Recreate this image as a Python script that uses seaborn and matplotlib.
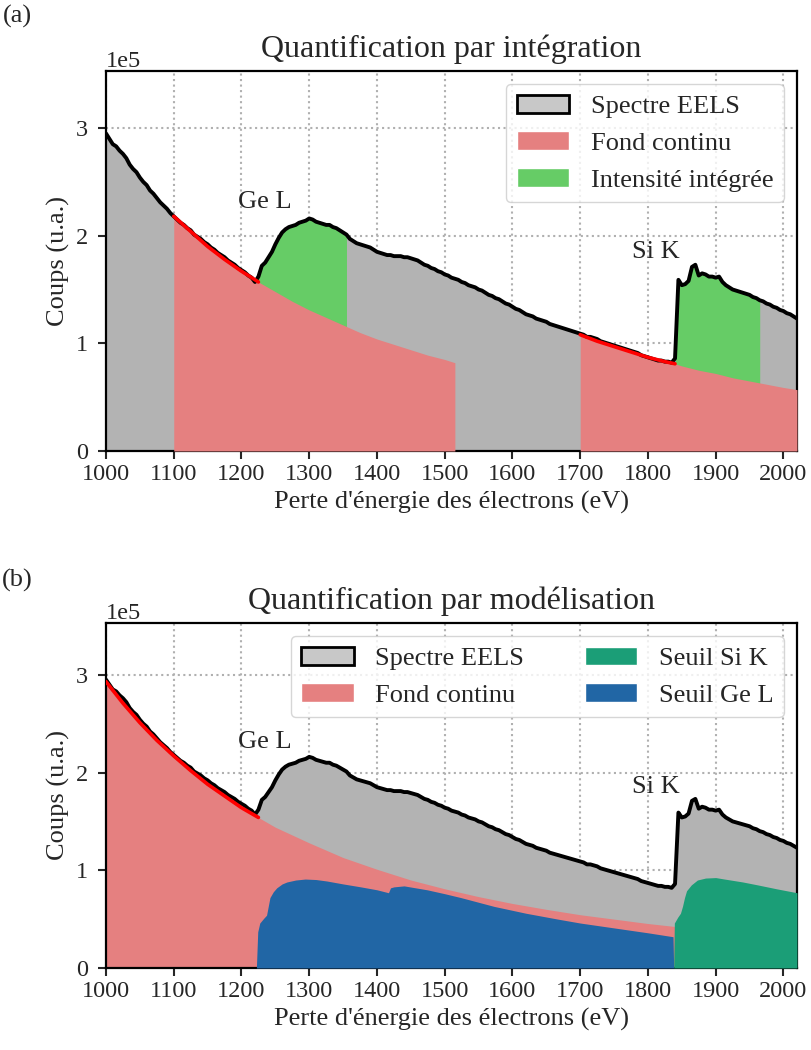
"""Two-panel EELS quantification figure (integration vs. model fit)."""
import matplotlib

matplotlib.use("Agg")  # headless rendering
import matplotlib.pyplot as plt  # noqa: E402
import numpy as np  # noqa: E402
import seaborn as sns  # noqa: E402
from matplotlib.patches import Patch  # noqa: E402

SCALE = 1e5  # values below are in units of 1e5 counts

# EELS spectrum, 5 eV steps from 1000 to 2020 eV
energy = np.arange(1000, 2021, 5)
spectrum = [
    2.95, 2.90, 2.85, 2.83, 2.79, 2.76, 2.72, 2.66, 2.62, 2.59,
    2.54, 2.50, 2.47, 2.42, 2.39, 2.35, 2.31, 2.28, 2.25, 2.21,
    2.18, 2.15, 2.12, 2.10, 2.07, 2.05, 2.01, 1.99, 1.97, 1.94,
    1.92, 1.89, 1.87, 1.84, 1.82, 1.80, 1.77, 1.75, 1.73, 1.70,
    1.68, 1.66, 1.63, 1.61, 1.57, 1.62, 1.72, 1.75, 1.80, 1.85,
    1.92, 1.98, 2.03, 2.06, 2.08, 2.09, 2.10, 2.12, 2.13, 2.14,
    2.16, 2.15, 2.13, 2.12, 2.11, 2.10, 2.10, 2.08, 2.07, 2.05,
    2.03, 2.01, 1.97, 1.95, 1.93, 1.92, 1.91, 1.90, 1.89, 1.87,
    1.85, 1.84, 1.83, 1.82, 1.82, 1.81, 1.81, 1.81, 1.80, 1.80,
    1.79, 1.78, 1.77, 1.75, 1.73, 1.72, 1.70, 1.69, 1.67, 1.66,
    1.64, 1.63, 1.61, 1.60, 1.59, 1.57, 1.56, 1.54, 1.53, 1.52,
    1.50, 1.49, 1.47, 1.45, 1.44, 1.42, 1.41, 1.39, 1.37, 1.36,
    1.34, 1.32, 1.31, 1.29, 1.27, 1.26, 1.25, 1.23, 1.22, 1.21,
    1.20, 1.18, 1.17, 1.16, 1.15, 1.14, 1.13, 1.12, 1.11, 1.10,
    1.09, 1.08, 1.06, 1.06, 1.05, 1.04, 1.02, 1.01, 1.00, 0.99,
    0.98, 0.97, 0.96, 0.95, 0.94, 0.93, 0.92, 0.91, 0.89, 0.88,
    0.87, 0.86, 0.85, 0.84, 0.84, 0.83, 0.83, 0.82, 0.86, 1.59,
    1.54, 1.55, 1.58, 1.71, 1.73, 1.63, 1.65, 1.64, 1.62, 1.62,
    1.61, 1.62, 1.57, 1.54, 1.52, 1.50, 1.49, 1.48, 1.47, 1.46,
    1.45, 1.43, 1.42, 1.40, 1.39, 1.37, 1.36, 1.34, 1.33, 1.31,
    1.30, 1.28, 1.27, 1.25, 1.23,
]

# (a) background under Ge L and under Si K
bg_ge_e = [1100, 1125, 1150, 1175, 1200, 1225, 1250, 1275, 1300, 1325,
           1350, 1375, 1400, 1425, 1450, 1475, 1500, 1515]
bg_ge = [2.18, 2.04, 1.90, 1.78, 1.67, 1.57, 1.48, 1.39, 1.31, 1.24,
         1.17, 1.10, 1.04, 0.99, 0.94, 0.89, 0.85, 0.82]
bg_si_e = [1700, 1725, 1750, 1775, 1800, 1825, 1840, 1850, 1875, 1900,
           1925, 1950, 1975, 2000, 2020]
bg_si = [1.08, 1.02, 0.97, 0.92, 0.87, 0.83, 0.81, 0.79, 0.75, 0.72,
         0.68, 0.65, 0.62, 0.59, 0.57]
fit_ge = (1100, 1225)
fit_si = (1700, 1840)
win_ge = (1220, 1355)
win_si = (1840, 1965)

# (b) model: background + edges
bg_b_e = [1000, 1025, 1050, 1075, 1100, 1125, 1150, 1175, 1200, 1225,
          1250, 1275, 1300, 1350, 1400, 1450, 1500, 1550, 1600, 1650,
          1700, 1750, 1800, 1850, 1900, 1950, 2000, 2020]
bg_b = [2.93, 2.71, 2.51, 2.33, 2.17, 2.02, 1.88, 1.76, 1.64, 1.54,
        1.44, 1.36, 1.28, 1.13, 1.01, 0.90, 0.81, 0.73, 0.66, 0.60,
        0.545, 0.50, 0.455, 0.417, 0.383, 0.353, 0.326, 0.316]
fit_b = (1000, 1225)
ge_l_e = [1222, 1224, 1227, 1233, 1237, 1242, 1247, 1252, 1260, 1267,
          1280, 1294, 1310, 1326, 1350, 1376, 1400, 1417, 1420, 1425,
          1440, 1474, 1500, 1524, 1573, 1620, 1667, 1700, 1750, 1800,
          1837, 1838]
ge_l = [0.00, 0.37, 0.46, 0.51, 0.54, 0.72, 0.78, 0.82, 0.86, 0.88,
        0.90, 0.91, 0.905, 0.89, 0.86, 0.83, 0.80, 0.77, 0.82, 0.83,
        0.84, 0.80, 0.76, 0.72, 0.63, 0.56, 0.50, 0.46, 0.41, 0.36,
        0.32, 0.00]
si_k_e = [1838, 1839, 1844, 1848, 1851, 1854, 1857, 1864, 1873, 1885,
          1900, 1913, 1940, 1962, 1990, 2020]
si_k = [0.00, 0.46, 0.52, 0.56, 0.63, 0.72, 0.79, 0.85, 0.90, 0.92,
        0.925, 0.91, 0.88, 0.85, 0.81, 0.77]

C_SPEC = "#b3b3b3"
C_SPEC_LEG = "#c8c8c8"
C_BG = "#e58080"
C_INT = "#66cc66"
C_SI = "#1b9e77"
C_GE = "#2166a5"


def as_counts(values):
    return np.asarray(values, dtype=float) * SCALE


def in_range(x, lo, hi):
    x = np.asarray(x)
    return (x >= lo) & (x <= hi)


def style_axes(ax, title):
    ax.set_xlim(1000, 2020)
    ax.set_ylim(0, 3.53 * SCALE)
    ax.set_xticks(np.arange(1000, 2001, 100))
    ax.set_yticks([0, 1 * SCALE, 2 * SCALE, 3 * SCALE])
    ax.ticklabel_format(axis="y", style="sci", scilimits=(0, 0))
    ax.yaxis.get_offset_text().set_fontsize(17.5)
    ax.grid(True, ls=":", lw=1.5, color="#b0b0b0")
    ax.set_axisbelow(True)
    ax.tick_params(labelsize=17.5, width=1.5, length=6)
    ax.tick_params(axis="y", pad=7)
    for sp in ax.spines.values():
        sp.set_linewidth(1.6)
        sp.set_color("black")
        sp.set_visible(True)
    ax.set_title(title, fontsize=23, pad=10)
    ax.set_xlabel("Perte d'énergie des électrons (eV)", fontsize=19)
    ax.set_ylabel("Coups (u.a.)", fontsize=19)


def draw_spectrum(ax):
    y = as_counts(spectrum)
    ax.fill_between(energy, 0, y, color=C_SPEC, lw=0, zorder=1)
    sns.lineplot(x=energy, y=y, ax=ax, color="black", lw=2.8,
                 estimator=None, sort=False, zorder=5)


def draw_fit(ax, x, y, window):
    m = in_range(x, *window)
    sns.lineplot(x=np.asarray(x)[m], y=as_counts(y)[m], ax=ax, color="red",
                 lw=2.6, estimator=None, sort=False, zorder=6)


sns.set_style("ticks")
plt.rcParams["font.family"] = ["Liberation Serif", "DejaVu Serif"]

fig = plt.figure(figsize=(8.11, 10.5), dpi=100)
ax_a = fig.add_axes([0.1307, 0.5705, 0.852, 0.3619])
ax_b = fig.add_axes([0.1307, 0.0781, 0.852, 0.3286])

# (a) integration
draw_spectrum(ax_a)
y_spec = as_counts(spectrum)
for win in (win_ge, win_si):
    ax_a.fill_between(energy, 0, y_spec, where=in_range(energy, *win),
                      color=C_INT, lw=0, zorder=2)
ax_a.fill_between(bg_ge_e, 0, as_counts(bg_ge), color=C_BG, lw=0, zorder=3)
ax_a.fill_between(bg_si_e, 0, as_counts(bg_si), color=C_BG, lw=0, zorder=3)
draw_fit(ax_a, bg_ge_e, bg_ge, fit_ge)
draw_fit(ax_a, bg_si_e, bg_si, fit_si)
style_axes(ax_a, "Quantification par intégration")
ax_a.legend(handles=[
    Patch(facecolor=C_SPEC_LEG, edgecolor="black", lw=2, label="Spectre EELS"),
    Patch(facecolor=C_BG, label="Fond continu"),
    Patch(facecolor=C_INT, label="Intensité intégrée"),
], loc="upper right", fontsize=19, framealpha=0.8, edgecolor="0.8")

# (b) modelling
draw_spectrum(ax_b)
ax_b.fill_between(bg_b_e, 0, as_counts(bg_b), color=C_BG, lw=0, zorder=2)
ax_b.fill_between(ge_l_e, 0, as_counts(ge_l), color=C_GE, lw=0, zorder=3)
ax_b.fill_between(si_k_e, 0, as_counts(si_k), color=C_SI, lw=0, zorder=3)
draw_fit(ax_b, bg_b_e, bg_b, fit_b)
style_axes(ax_b, "Quantification par modélisation")
ax_b.legend(handles=[
    Patch(facecolor=C_SPEC_LEG, edgecolor="black", lw=2, label="Spectre EELS"),
    Patch(facecolor=C_BG, label="Fond continu"),
    Patch(facecolor=C_SI, label="Seuil Si K"),
    Patch(facecolor=C_GE, label="Seuil Ge L"),
], loc="upper right", ncol=2, fontsize=19, framealpha=0.8, edgecolor="0.8",
   columnspacing=2.3)

for ax in (ax_a, ax_b):
    ax.text(1234, 2.31 * SCALE, "Ge L", fontsize=19, ha="center", va="center")
    ax.text(1812, 1.85 * SCALE, "Si K", fontsize=19, ha="center", va="center")

fig.text(0.021, 0.984, "(a)", fontsize=19, ha="center", va="center")
fig.text(0.021, 0.447, "(b)", fontsize=19, ha="center", va="center")

fig.savefig("out.png", dpi=100)
plt.close(fig)
